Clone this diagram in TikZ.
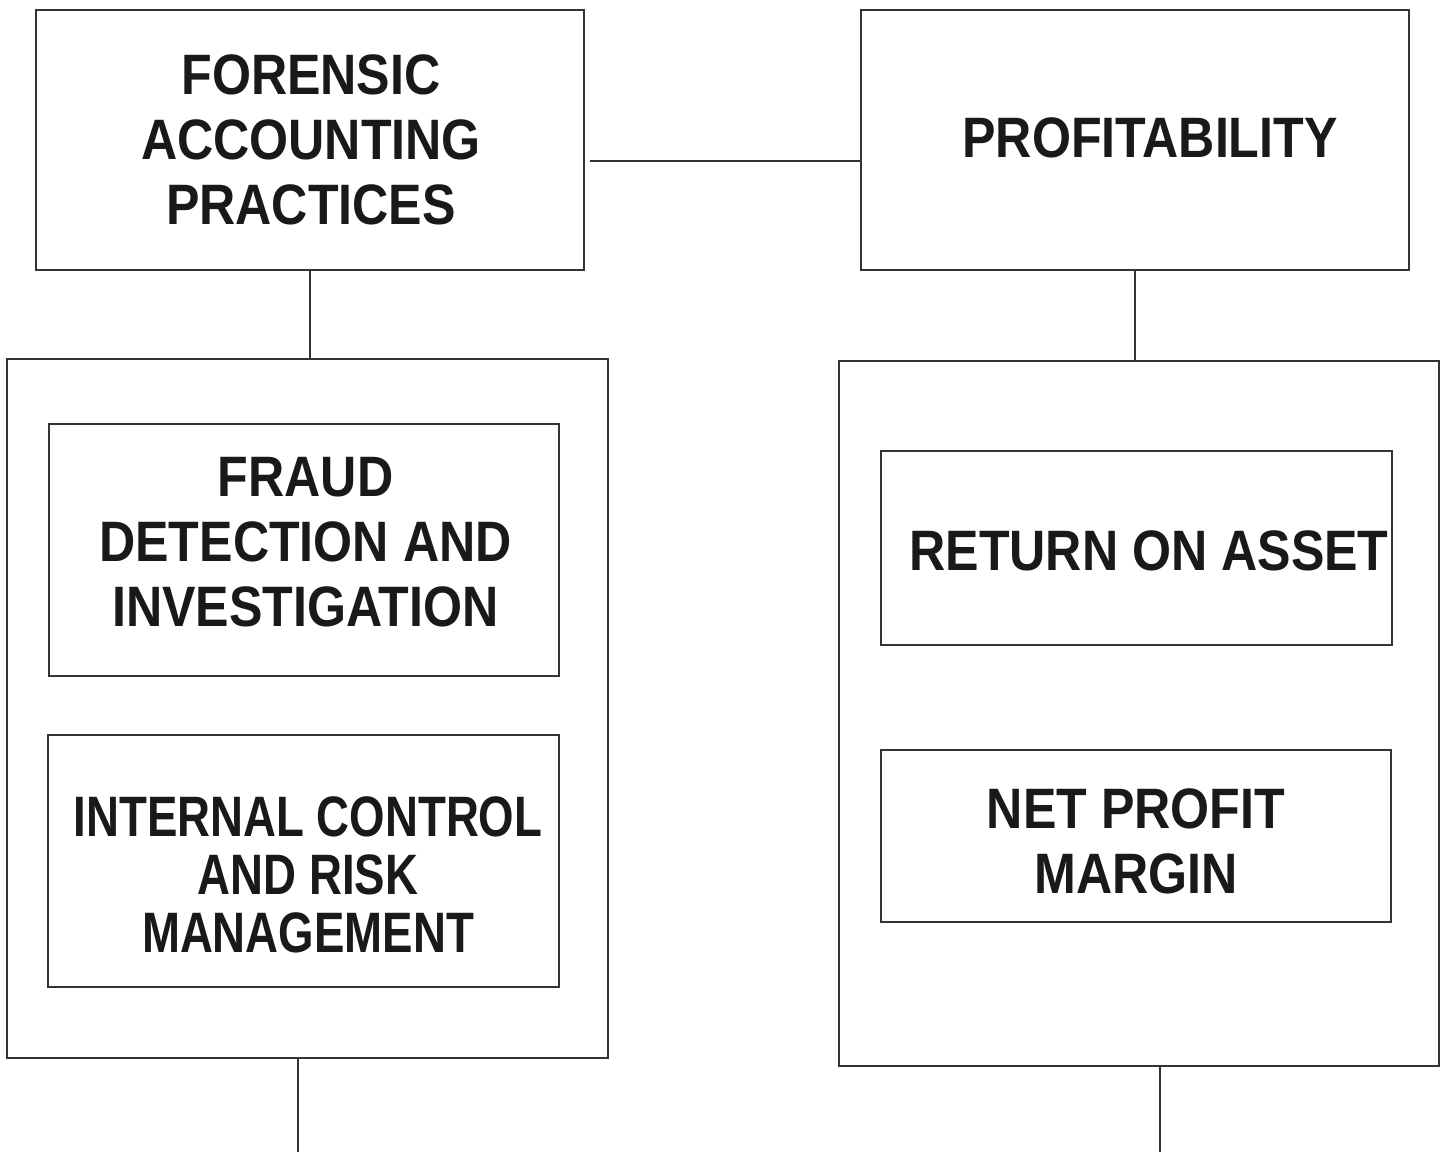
\documentclass[tikz,border=0pt]{standalone}
\usepackage{fontspec}
\newfontfamily\boxfont{Liberation Sans}[FakeStretch=0.88]
\newfontfamily\narrowfont{Liberation Sans}[FakeStretch=0.80]
\usetikzlibrary{calc}
\begin{document}
\begin{tikzpicture}[x=0.5pt,y=-0.5pt,
  line width=0.7pt, draw=black!80,
  frame/.style={draw, rectangle, inner sep=0pt},
  txt/.style={inner sep=0pt, align=center, text=black!90,
    font=\boxfont\bfseries\fontsize{28.5}{32.5}\selectfont},
  narrowtxt/.style={txt, font=\narrowfont\bfseries\fontsize{28.5}{29}\selectfont}]
\useasboundingbox (0,0) rectangle (1442,1152);

% top row
\node[frame, minimum width=274pt, minimum height=130pt] (fap) at (310,140) {};
\node[txt] (faptxt) at (311,140) {FORENSIC\\ACCOUNTING\\PRACTICES};
\node[frame, minimum width=274pt, minimum height=130pt] (prof) at (1135,140) {};
\node[txt] (proftxt) at (1150,137.5) {PROFITABILITY};

% grouping frames
\node[frame, minimum width=300.5pt, minimum height=349.5pt] (lgrp) at (307.5,708.5) {};
\node[frame, minimum width=300pt, minimum height=352.5pt] (rgrp) at (1139,713.5) {};

% left group contents
\node[frame, minimum width=255pt, minimum height=126pt] (fraud) at (304,550) {};
\node[txt] (fraudtxt) at (305.5,542.5) {FRAUD\\DETECTION AND\\INVESTIGATION};
\node[frame, minimum width=255.5pt, minimum height=126pt] (icrm) at (303.5,861) {};
\node[narrowtxt] (icrmtxt) at (308,875) {INTERNAL CONTROL\\AND RISK\\MANAGEMENT};

% right group contents
\node[frame, minimum width=255.5pt, minimum height=97pt] (roa) at (1136.5,548) {};
\node[txt] (roatxt) at (1149,550.5) {RETURN ON ASSET};
\node[frame, minimum width=255pt, minimum height=86pt] (npm) at (1136,836) {};
\node[txt] (npmtxt) at (1136,841.5) {NET PROFIT\\MARGIN};

% loose ends at the foot of the page
\coordinate (lend) at (298,1152);
\coordinate (rend) at (1160,1152);

% connectors
\draw ($(fap.east)+(5,21)$) -- ($(prof.west)+(0,21)$);
\draw (fap.south) -- (fap.south |- lgrp.north);
\draw (prof.south) -- (prof.south |- rgrp.north);
\draw (lend |- lgrp.south) -- (lend);
\draw (rend |- rgrp.south) -- (rend);
\end{tikzpicture}
\end{document}
